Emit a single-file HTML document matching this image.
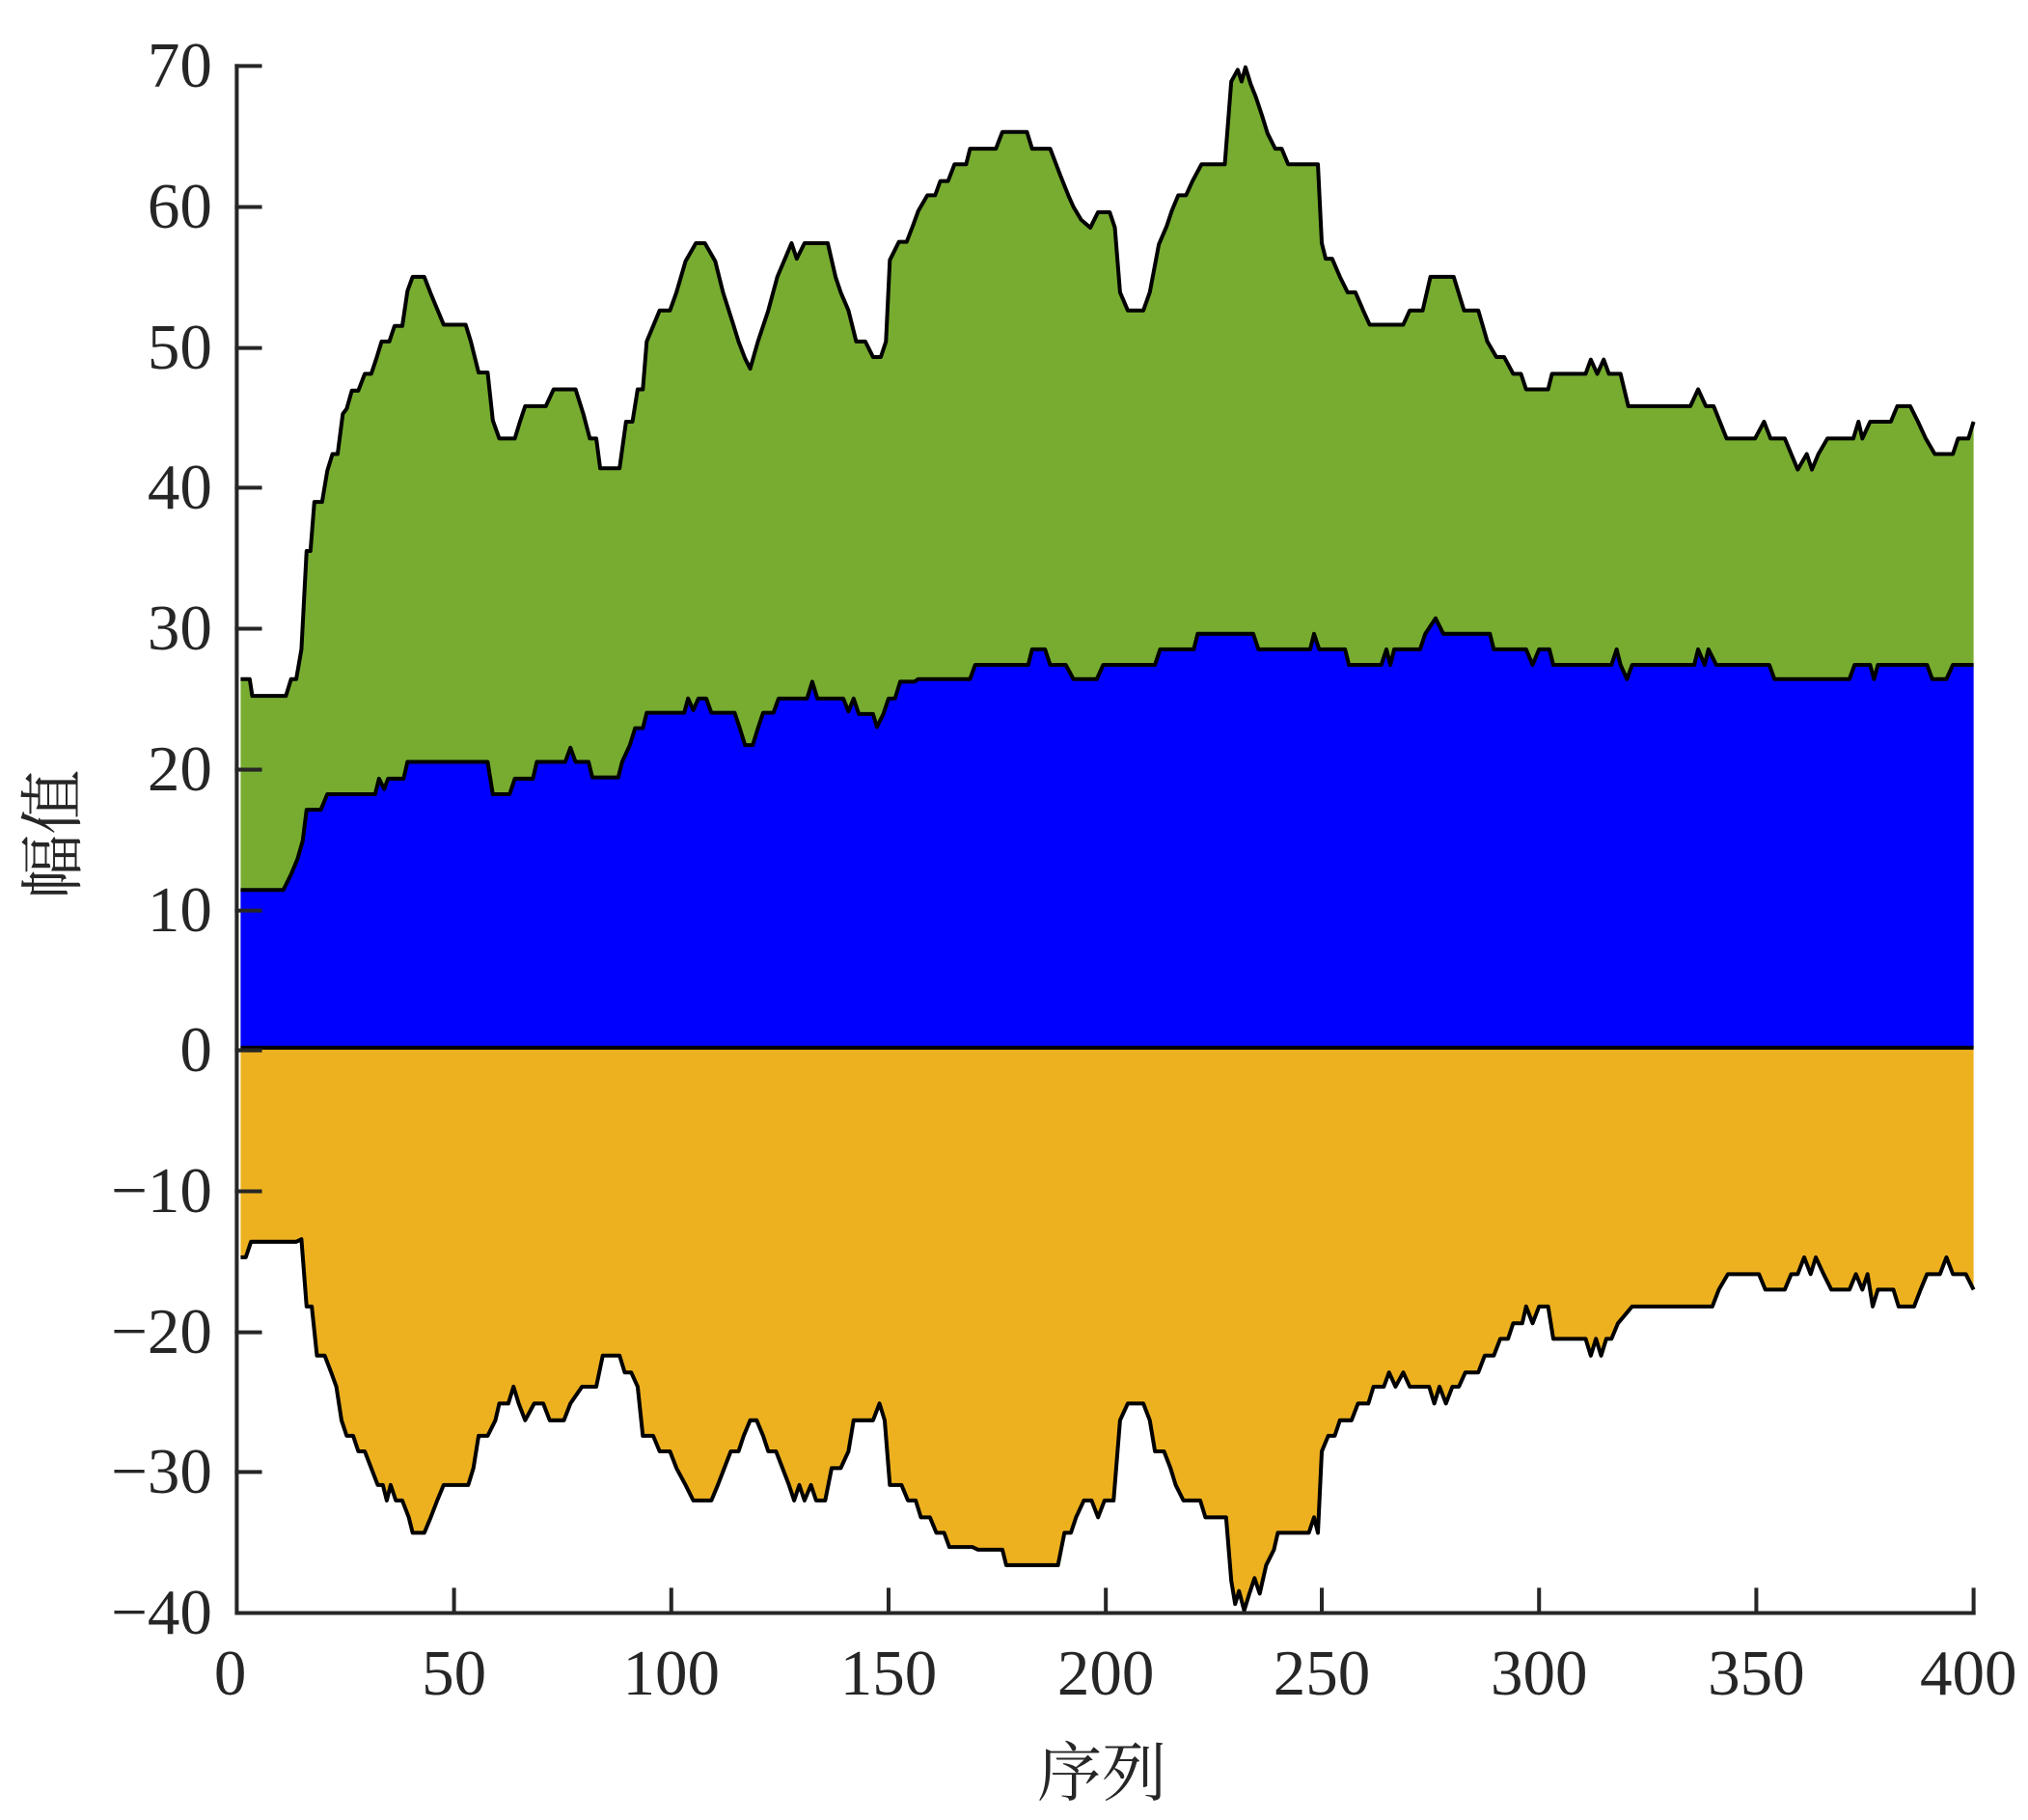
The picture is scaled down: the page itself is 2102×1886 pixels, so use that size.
<!DOCTYPE html>
<html><head><meta charset="utf-8"><style>html,body{margin:0;padding:0;background:#fff}svg{display:block}</style></head>
<body>
<svg width="2102" height="1886" viewBox="0 0 1568 1407" xmlns="http://www.w3.org/2000/svg">
<g stroke-linejoin="round">
<path fill="#77AC30" stroke="none" d="M186,810 L186,525 193,525 195,538 221,538 225,525 229,525 233,502 237,426 240,426 243,388 249,388 253,364 257,351 261,351 265,320 268,316 272,302 277,302 282,289 287,289 291,277 295,264 301,264 305,252 311,252 315,225 319,214 328,214 333,227 338,239 343,251 360,251 364,264 370,288 377,288 381,325 386,339 398,339 402,326 406,314 422,314 428,301 445,301 451,320 456,339 461,339 464,362 479,362 484,326 489,326 493,301 497,301 500,264 505,252 510,240 518,240 523,226 530,202 538,188 545,188 553,202 559,226 567,251 571,264 576,277 580,285 586,264 594,240 601,214 612,188 616,200 622,188 640,188 646,214 650,226 656,240 662,264 669,264 675,276 681,276 685,264 688,201 695,187 701,187 706,174 710,163 717,151 723,151 727,140 733,140 738,127 747,127 750,115 770,115 775,102 794,102 798,115 812,115 820,136 826,151 830,160 836,170 843,176 849,164 858,164 862,176 866,226 872,240 884,240 889,226 896,189 902,175 906,163 911,151 917,151 922,140 929,127 947,127 952,63 957,54 960,63 963,52 967,65 971,75 976,90 980,103 986,115 991,115 996,127 1019,127 1022,188 1025,200 1030,200 1036,214 1042,226 1048,226 1054,240 1059,251 1085,251 1090,240 1100,240 1106,214 1124,214 1132,240 1143,240 1150,264 1157,276 1163,276 1170,289 1176,289 1180,301 1197,301 1200,289 1226,289 1230,278 1235,289 1240,278 1244,289 1253,289 1259,314 1307,314 1313,301 1319,314 1325,314 1335,339 1357,339 1364,326 1369,339 1380,339 1385,351 1390,363 1397,351 1401,363 1406,351 1413,339 1433,339 1437,326 1440,339 1446,326 1462,326 1467,314 1477,314 1483,326 1489,339 1496,351 1510,351 1514,339 1522,339 1526,326 L1526,810 Z"/>
<path fill="#0000FF" stroke="none" d="M186,810 L186,688 219,688 225,676 230,664 234,650 237,626 248,626 253,614 290,614 293,602 297,610 300,602 312,602 315,589 377,589 381,614 394,614 398,602 412,602 415,589 437,589 441,578 445,589 455,589 458,601 478,601 481,589 487,576 491,563 497,563 500,551 529,551 532,540 536,549 540,540 546,540 550,551 568,551 572,563 576,576 582,576 586,563 590,551 598,551 602,540 624,540 628,527 632,540 652,540 656,550 660,540 664,552 675,552 678,562 683,552 687,540 692,540 696,527 707,527 710,525 750,525 754,514 795,514 798,502 808,502 812,514 824,514 830,525 848,525 853,514 893,514 897,502 923,502 926,490 969,490 973,502 1013,502 1016,490 1020,502 1040,502 1043,514 1068,514 1072,502 1075,514 1078,502 1098,502 1102,490 1110,478 1116,490 1152,490 1155,502 1180,502 1185,514 1190,502 1198,502 1201,514 1246,514 1250,502 1253,514 1258,525 1262,514 1310,514 1313,502 1318,514 1321,502 1327,514 1368,514 1372,525 1430,525 1434,514 1446,514 1449,525 1452,514 1490,514 1494,525 1505,525 1510,514 1526,514 L1526,810 Z"/>
<path fill="#EDB120" stroke="none" d="M186,810 L186,972 190,972 194,960 229,960 233,958 237,1010 241,1010 245,1048 251,1048 256,1061 260,1072 264,1098 268,1110 273,1110 277,1122 282,1122 287,1135 292,1148 296,1148 299,1160 302,1148 306,1160 311,1160 316,1173 319,1185 328,1185 333,1173 338,1160 343,1148 362,1148 366,1135 370,1110 377,1110 383,1098 386,1085 393,1085 397,1072 401,1085 406,1098 413,1085 420,1085 425,1098 436,1098 441,1085 450,1072 461,1072 466,1048 479,1048 483,1061 488,1061 493,1072 497,1110 505,1110 510,1122 518,1122 523,1135 530,1148 536,1160 550,1160 555,1148 560,1135 565,1122 571,1122 575,1110 580,1098 585,1098 590,1110 594,1122 600,1122 605,1135 610,1148 614,1160 618,1148 622,1160 627,1148 631,1160 638,1160 643,1135 650,1135 656,1122 660,1098 675,1098 680,1085 684,1098 688,1148 697,1148 702,1160 708,1160 712,1173 719,1173 724,1185 730,1185 734,1196 752,1196 756,1198 775,1198 778,1210 818,1210 823,1185 828,1185 832,1173 838,1160 844,1160 849,1173 854,1160 861,1160 866,1098 872,1085 884,1085 889,1098 893,1122 900,1122 905,1135 909,1148 915,1160 928,1160 932,1173 948,1173 952,1222 955,1240 958,1230 962,1245 966,1232 970,1220 974,1232 979,1210 985,1198 988,1185 1012,1185 1016,1173 1019,1185 1022,1122 1027,1110 1032,1110 1036,1098 1045,1098 1050,1085 1058,1085 1062,1072 1070,1072 1074,1061 1079,1072 1085,1061 1090,1072 1105,1072 1109,1085 1113,1072 1118,1085 1123,1072 1128,1072 1133,1061 1143,1061 1148,1048 1155,1048 1160,1035 1166,1035 1170,1023 1177,1023 1180,1010 1185,1023 1190,1010 1197,1010 1201,1035 1226,1035 1230,1048 1234,1035 1238,1048 1242,1035 1246,1035 1251,1023 1262,1010 1324,1010 1329,997 1336,985 1360,985 1365,997 1380,997 1385,985 1390,985 1395,972 1400,985 1404,972 1410,985 1416,997 1430,997 1435,985 1440,997 1444,985 1448,1010 1452,997 1464,997 1468,1010 1480,1010 1485,997 1490,985 1500,985 1505,972 1510,985 1520,985 1526,997 L1526,810 Z"/>
<g fill="none" stroke="#000" stroke-width="3">
<path d="M186,525 193,525 195,538 221,538 225,525 229,525 233,502 237,426 240,426 243,388 249,388 253,364 257,351 261,351 265,320 268,316 272,302 277,302 282,289 287,289 291,277 295,264 301,264 305,252 311,252 315,225 319,214 328,214 333,227 338,239 343,251 360,251 364,264 370,288 377,288 381,325 386,339 398,339 402,326 406,314 422,314 428,301 445,301 451,320 456,339 461,339 464,362 479,362 484,326 489,326 493,301 497,301 500,264 505,252 510,240 518,240 523,226 530,202 538,188 545,188 553,202 559,226 567,251 571,264 576,277 580,285 586,264 594,240 601,214 612,188 616,200 622,188 640,188 646,214 650,226 656,240 662,264 669,264 675,276 681,276 685,264 688,201 695,187 701,187 706,174 710,163 717,151 723,151 727,140 733,140 738,127 747,127 750,115 770,115 775,102 794,102 798,115 812,115 820,136 826,151 830,160 836,170 843,176 849,164 858,164 862,176 866,226 872,240 884,240 889,226 896,189 902,175 906,163 911,151 917,151 922,140 929,127 947,127 952,63 957,54 960,63 963,52 967,65 971,75 976,90 980,103 986,115 991,115 996,127 1019,127 1022,188 1025,200 1030,200 1036,214 1042,226 1048,226 1054,240 1059,251 1085,251 1090,240 1100,240 1106,214 1124,214 1132,240 1143,240 1150,264 1157,276 1163,276 1170,289 1176,289 1180,301 1197,301 1200,289 1226,289 1230,278 1235,289 1240,278 1244,289 1253,289 1259,314 1307,314 1313,301 1319,314 1325,314 1335,339 1357,339 1364,326 1369,339 1380,339 1385,351 1390,363 1397,351 1401,363 1406,351 1413,339 1433,339 1437,326 1440,339 1446,326 1462,326 1467,314 1477,314 1483,326 1489,339 1496,351 1510,351 1514,339 1522,339 1526,326"/>
<path d="M186,688 219,688 225,676 230,664 234,650 237,626 248,626 253,614 290,614 293,602 297,610 300,602 312,602 315,589 377,589 381,614 394,614 398,602 412,602 415,589 437,589 441,578 445,589 455,589 458,601 478,601 481,589 487,576 491,563 497,563 500,551 529,551 532,540 536,549 540,540 546,540 550,551 568,551 572,563 576,576 582,576 586,563 590,551 598,551 602,540 624,540 628,527 632,540 652,540 656,550 660,540 664,552 675,552 678,562 683,552 687,540 692,540 696,527 707,527 710,525 750,525 754,514 795,514 798,502 808,502 812,514 824,514 830,525 848,525 853,514 893,514 897,502 923,502 926,490 969,490 973,502 1013,502 1016,490 1020,502 1040,502 1043,514 1068,514 1072,502 1075,514 1078,502 1098,502 1102,490 1110,478 1116,490 1152,490 1155,502 1180,502 1185,514 1190,502 1198,502 1201,514 1246,514 1250,502 1253,514 1258,525 1262,514 1310,514 1313,502 1318,514 1321,502 1327,514 1368,514 1372,525 1430,525 1434,514 1446,514 1449,525 1452,514 1490,514 1494,525 1505,525 1510,514 1526,514"/>
<path d="M186,972 190,972 194,960 229,960 233,958 237,1010 241,1010 245,1048 251,1048 256,1061 260,1072 264,1098 268,1110 273,1110 277,1122 282,1122 287,1135 292,1148 296,1148 299,1160 302,1148 306,1160 311,1160 316,1173 319,1185 328,1185 333,1173 338,1160 343,1148 362,1148 366,1135 370,1110 377,1110 383,1098 386,1085 393,1085 397,1072 401,1085 406,1098 413,1085 420,1085 425,1098 436,1098 441,1085 450,1072 461,1072 466,1048 479,1048 483,1061 488,1061 493,1072 497,1110 505,1110 510,1122 518,1122 523,1135 530,1148 536,1160 550,1160 555,1148 560,1135 565,1122 571,1122 575,1110 580,1098 585,1098 590,1110 594,1122 600,1122 605,1135 610,1148 614,1160 618,1148 622,1160 627,1148 631,1160 638,1160 643,1135 650,1135 656,1122 660,1098 675,1098 680,1085 684,1098 688,1148 697,1148 702,1160 708,1160 712,1173 719,1173 724,1185 730,1185 734,1196 752,1196 756,1198 775,1198 778,1210 818,1210 823,1185 828,1185 832,1173 838,1160 844,1160 849,1173 854,1160 861,1160 866,1098 872,1085 884,1085 889,1098 893,1122 900,1122 905,1135 909,1148 915,1160 928,1160 932,1173 948,1173 952,1222 955,1240 958,1230 962,1245 966,1232 970,1220 974,1232 979,1210 985,1198 988,1185 1012,1185 1016,1173 1019,1185 1022,1122 1027,1110 1032,1110 1036,1098 1045,1098 1050,1085 1058,1085 1062,1072 1070,1072 1074,1061 1079,1072 1085,1061 1090,1072 1105,1072 1109,1085 1113,1072 1118,1085 1123,1072 1128,1072 1133,1061 1143,1061 1148,1048 1155,1048 1160,1035 1166,1035 1170,1023 1177,1023 1180,1010 1185,1023 1190,1010 1197,1010 1201,1035 1226,1035 1230,1048 1234,1035 1238,1048 1242,1035 1246,1035 1251,1023 1262,1010 1324,1010 1329,997 1336,985 1360,985 1365,997 1380,997 1385,985 1390,985 1395,972 1400,985 1404,972 1410,985 1416,997 1430,997 1435,985 1440,997 1444,985 1448,1010 1452,997 1464,997 1468,1010 1480,1010 1485,997 1490,985 1500,985 1505,972 1510,985 1520,985 1526,997"/>
<path d="M186,810 L1526,810"/>
</g>
</g>
<g stroke="#262626" stroke-width="3" fill="none" stroke-linecap="square">
<path d="M183,51 L183,1247 L1526,1247"/>
<path d="M183,51 h18 M183,160 h18 M183,269 h18 M183,377 h18 M183,486 h18 M183,595 h18 M183,704 h18 M183,812 h18 M183,921 h18 M183,1030 h18 M183,1138 h18"/>
<path d="M351,1247 v-18 M519,1247 v-18 M687,1247 v-18 M855,1247 v-18 M1022,1247 v-18 M1190,1247 v-18 M1358,1247 v-18 M1526,1247 v-18"/>
</g>
<g style="font-family:'Liberation Serif','Times New Roman',serif;font-size:50px" fill="#262626" text-anchor="end">
<text x="164" y="67">70</text><text x="164" y="176">60</text><text x="164" y="285">50</text><text x="164" y="393">40</text><text x="164" y="502">30</text><text x="164" y="611">20</text><text x="164" y="720">10</text><text x="164" y="828">0</text><text x="164" y="937">−10</text><text x="164" y="1046">−20</text><text x="164" y="1154">−30</text><text x="164" y="1263">−40</text>
</g>
<g style="font-family:'Liberation Serif','Times New Roman',serif;font-size:50px" fill="#262626" text-anchor="middle">
<text x="178" y="1310">0</text><text x="351" y="1310">50</text><text x="519" y="1310">100</text><text x="687" y="1310">150</text><text x="855" y="1310">200</text><text x="1022" y="1310">250</text><text x="1190" y="1310">300</text><text x="1358" y="1310">350</text><text x="1522" y="1310">400</text>
</g>
<text x="852" y="1388" style="font-family:'Liberation Serif','Noto Serif CJK SC',serif;font-size:50px" fill="#262626" text-anchor="middle">序列</text>
<text transform="translate(58,645) rotate(-90)" style="font-family:'Liberation Serif','Noto Serif CJK SC',serif;font-size:50px" fill="#262626" text-anchor="middle">幅值</text>
</svg>
</body></html>
